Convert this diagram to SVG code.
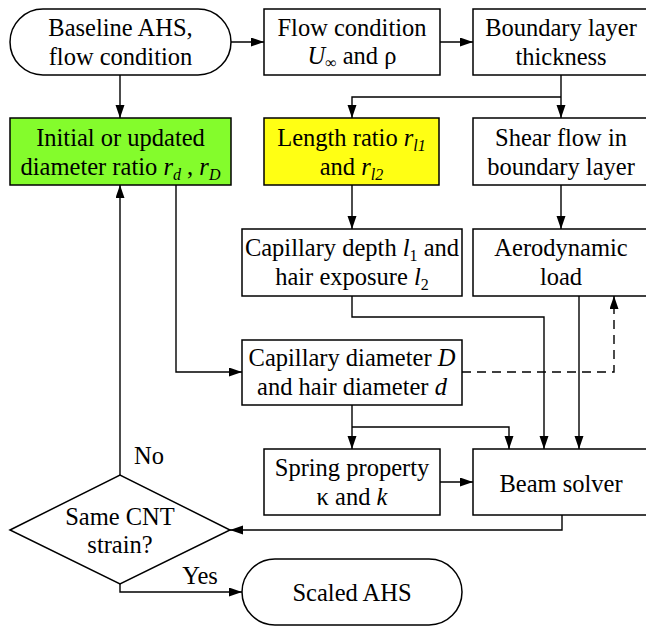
<svg xmlns="http://www.w3.org/2000/svg" width="646" height="626" viewBox="0 0 646 626" font-family="'Liberation Serif', serif">
<defs>
<marker id="ah" markerUnits="userSpaceOnUse" markerWidth="14" markerHeight="10" refX="13" refY="4.5" orient="auto">
<path d="M0,0 L13,4.5 L0,9 z" fill="#000"/>
</marker>
<style>
.box{fill:#fff;stroke:#000;stroke-width:1.5}
.t{font-size:24.5px;fill:#000;text-anchor:middle}
.i{font-style:italic}
.s{font-size:16px}
.c{fill:none;stroke:#000;stroke-width:1.4}
.d{stroke-dasharray:9 6}
</style>
</defs>
<rect width="646" height="626" fill="#fff"/>
<g id="connectors">
<path class="c" d="M231,42 H264" marker-end="url(#ah)"/>
<path class="c" d="M440,42 H473" marker-end="url(#ah)"/>
<path class="c" d="M120,75 V118" marker-end="url(#ah)"/>
<path class="c" d="M561,75 V118" marker-end="url(#ah)"/>
<path class="c" d="M561,97 H352 V118" marker-end="url(#ah)"/>
<path class="c" d="M352,185 V229" marker-end="url(#ah)"/>
<path class="c" d="M561,185 V229" marker-end="url(#ah)"/>
<path class="c" d="M176,185 V372 H242" marker-end="url(#ah)"/>
<path class="c" d="M352,296 V317 H544 V449" marker-end="url(#ah)"/>
<path class="c" d="M579,296 V449" marker-end="url(#ah)"/>
<path class="c d" d="M462,372 H614 V296" marker-end="url(#ah)"/>
<path class="c" d="M352,405 V449" marker-end="url(#ah)"/>
<path class="c" d="M352,427 H509 V449" marker-end="url(#ah)"/>
<path class="c" d="M440,482 H473" marker-end="url(#ah)"/>
<path class="c" d="M562,515 V530 H230" marker-end="url(#ah)"/>
<path class="c" d="M120,475 V185" marker-end="url(#ah)"/>
<path class="c" d="M120,584 V592 H242" marker-end="url(#ah)"/>
<text class="t" font-family="'Liberation Serif', serif" x="149" y="464">No</text>
<text class="t" font-family="'Liberation Serif', serif" x="200" y="584">Yes</text>
</g>
<g id="baseline">
<rect class="box" x="10" y="9" width="221" height="66" rx="33" ry="33"/>
<text class="t" font-family="'Liberation Serif', serif" x="120.5" y="36">Baseline AHS,</text>
<text class="t" font-family="'Liberation Serif', serif" x="120.5" y="65">flow condition</text>
</g>
<g id="flow">
<rect class="box" x="264" y="9" width="176" height="66"/>
<text class="t" font-family="'Liberation Serif', serif" x="352" y="36">Flow condition</text>
<text class="t" font-family="'Liberation Serif', serif" x="352" y="64"><tspan class="i">U</tspan><tspan class="s" dy="4">∞</tspan><tspan dy="-4"> and ρ</tspan></text>
</g>
<g id="boundary">
<rect class="box" x="473" y="9" width="180" height="66"/>
<text class="t" font-family="'Liberation Serif', serif" x="561" y="36">Boundary layer</text>
<text class="t" font-family="'Liberation Serif', serif" x="561" y="65">thickness</text>
</g>
<g id="diamratio">
<rect class="box" x="10" y="118" width="221" height="67" style="fill:#84fc2c"/>
<text class="t" font-family="'Liberation Serif', serif" x="120.5" y="146">Initial or updated</text>
<text class="t" font-family="'Liberation Serif', serif" x="120.5" y="175">diameter ratio <tspan class="i">r</tspan><tspan class="i s" dy="5">d</tspan><tspan dy="-5"> , </tspan><tspan class="i">r</tspan><tspan class="i s" dy="5">D</tspan></text>
</g>
<g id="lengthratio">
<rect class="box" x="264" y="118" width="175" height="67" style="fill:#ffff14"/>
<text class="t" font-family="'Liberation Serif', serif" x="351.5" y="146">Length ratio <tspan class="i">r</tspan><tspan class="i s" dy="5">l1</tspan></text>
<text class="t" font-family="'Liberation Serif', serif" x="351.5" y="175">and <tspan class="i">r</tspan><tspan class="i s" dy="5">l2</tspan></text>
</g>
<g id="shear">
<rect class="box" x="473" y="118" width="180" height="67"/>
<text class="t" font-family="'Liberation Serif', serif" x="561" y="146">Shear flow in</text>
<text class="t" font-family="'Liberation Serif', serif" x="561" y="175">boundary layer</text>
</g>
<g id="capdepth">
<rect class="box" x="242" y="229" width="220" height="67"/>
<text class="t" font-family="'Liberation Serif', serif" x="352" y="256">Capillary depth <tspan class="i">l</tspan><tspan class="s" dy="5">1</tspan><tspan dy="-5"> and</tspan></text>
<text class="t" font-family="'Liberation Serif', serif" x="352" y="285">hair exposure <tspan class="i">l</tspan><tspan class="s" dy="5">2</tspan></text>
</g>
<g id="aero">
<rect class="box" x="473" y="229" width="180" height="67"/>
<text class="t" font-family="'Liberation Serif', serif" x="561" y="256">Aerodynamic</text>
<text class="t" font-family="'Liberation Serif', serif" x="561" y="285">load</text>
</g>
<g id="capdiam">
<rect class="box" x="242" y="340" width="220" height="65"/>
<text class="t" font-family="'Liberation Serif', serif" x="352" y="366">Capillary diameter <tspan class="i">D</tspan></text>
<text class="t" font-family="'Liberation Serif', serif" x="352" y="395">and hair diameter <tspan class="i">d</tspan></text>
</g>
<g id="spring">
<rect class="box" x="264" y="449" width="176" height="66"/>
<text class="t" font-family="'Liberation Serif', serif" x="352" y="476">Spring property</text>
<text class="t" font-family="'Liberation Serif', serif" x="352" y="505">κ and <tspan class="i">k</tspan></text>
</g>
<g id="beam">
<rect class="box" x="473" y="449" width="180" height="66"/>
<text class="t" font-family="'Liberation Serif', serif" x="561" y="492">Beam solver</text>
</g>
<g id="decision">
<polygon class="box" points="10,530 120,475 230,530 120,584"/>
<text class="t" font-family="'Liberation Serif', serif" x="120" y="525">Same CNT</text>
<text class="t" font-family="'Liberation Serif', serif" x="120" y="553">strain?</text>
</g>
<g id="scaled">
<rect class="box" x="242" y="559" width="220" height="66" rx="33" ry="33"/>
<text class="t" font-family="'Liberation Serif', serif" x="352" y="601">Scaled AHS</text>
</g>
</svg>
